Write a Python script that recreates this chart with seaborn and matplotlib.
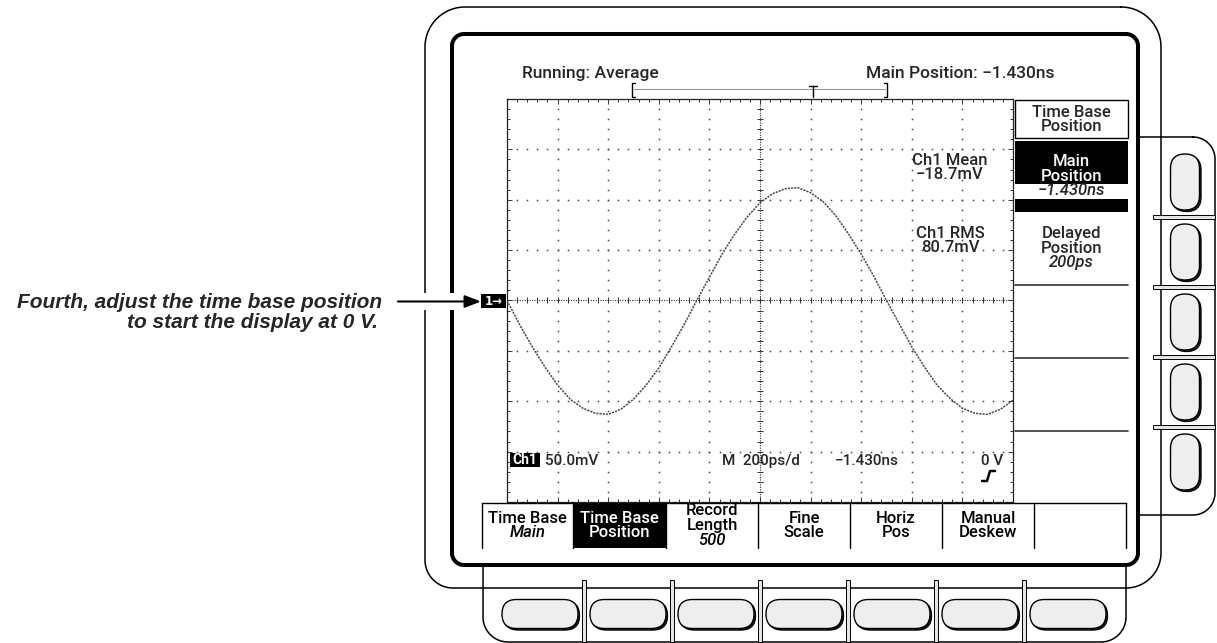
import numpy as np
import matplotlib.pyplot as plt
import seaborn as sns
from matplotlib.patches import FancyBboxPatch, Rectangle
from matplotlib.ticker import MultipleLocator

W, H = 1217, 643

# Ch1 trace (averaged), 200 ps/div, 50 mV/div
time_ns = [0.00, 0.05, 0.10, 0.15, 0.20, 0.25, 0.30, 0.35, 0.40, 0.45,
           0.50, 0.55, 0.60, 0.65, 0.70, 0.75, 0.80, 0.85, 0.90, 0.95,
           1.00, 1.05, 1.10, 1.15, 1.20, 1.25, 1.30, 1.35, 1.40, 1.45,
           1.50, 1.55, 1.60, 1.65, 1.70, 1.75, 1.80, 1.85, 1.90, 1.95, 2.00]
ch1_mv = [0, -24, -46, -66, -84, -98, -107, -112, -113, -108,
          -98, -84, -67, -46, -24, 0, 23, 46, 66, 83,
          97, 106, 111, 112, 107, 98, 84, 66, 46, 24,
          0, -23, -46, -66, -84, -97, -107, -112, -113, -108, -99]

# screen readouts
status_left = "Running: Average"
status_right = "Main Position: \u22121.430ns"
meas_labels = ["Ch1 Mean", "Ch1 RMS"]
meas_values = ["\u221218.7mV", "80.7mV"]
ch1_scale = "50.0mV"
time_scale = "M  200ps/d"
trig_pos = "\u22121.430ns"
trig_level = "0 V"

# side menu
side_title = ["Time Base", "Position"]
side_selected = ["Main", "Position"]
side_selected_value = "\u22121.430ns"
side_other = ["Delayed", "Position"]
side_other_value = "200ps"

# bottom menu
bottom_labels = [["Time Base"], ["Time Base", "Position"], ["Record", "Length"],
                 ["Fine", "Scale"], ["Horiz", "Pos"], ["Manual", "Deskew"], []]
bottom_values = ["Main", "", "500", "", "", "", ""]
bottom_selected = 1

note = ["Fourth, adjust the time base position", "to start the display at 0 V."]


def outline(x0, y0, x1, y1, rtl, rtr, rbr, rbl, n=24):
    pts = []

    def arc(cx, cy, r, a0, a1):
        t = np.radians(np.linspace(a0, a1, n))
        return list(zip(cx + r * np.cos(t), cy - r * np.sin(t)))
    pts += arc(x1 - rtr, y0 + rtr, rtr, 90, 0)
    pts += arc(x1 - rbr, y1 - rbr, rbr, 0, -90)
    pts += arc(x0 + rbl, y1 - rbl, rbl, -90, -180)
    pts += arc(x0 + rtl, y0 + rtl, rtl, 180, 90)
    pts.append(pts[0])
    xs, ys = zip(*pts)
    return xs, ys


def pill(ax, cx, cy, w, h):
    r = min(w, h) / 2
    sh = FancyBboxPatch((cx - w / 2 + 1.6, cy - h / 2 + 1.6), w, h,
                        boxstyle=f"round,pad=0,rounding_size={r}",
                        fc="#222222", ec="black", lw=0.8, zorder=4)
    b = FancyBboxPatch((cx - w / 2, cy - h / 2), w, h,
                       boxstyle=f"round,pad=0,rounding_size={r}",
                       fc="#eeeeee", ec="black", lw=1.0, zorder=5)
    ax.add_patch(sh)
    ax.add_patch(b)


sns.set_theme(style="white")
plt.rcParams['font.family'] = ['Roboto', 'DejaVu Sans']

fig = plt.figure(figsize=(W / 100, H / 100), dpi=100)
fig.patch.set_facecolor("white")

# graticule with the waveform
g = fig.add_axes([507 / W, (H - 502) / H, 506 / W, 403 / H], zorder=1)
sns.lineplot(x=time_ns, y=ch1_mv, ax=g, color="#4a4a4a", lw=1.1,
             linestyle=(0, (1.4, 0.7)), zorder=5)
g.set_xlim(0, 2.0)
g.set_ylim(-200, 200)
g.set(xlabel="", ylabel="")
g.set_xticks(np.arange(0, 2.001, 0.2))
g.set_yticks(np.arange(-200, 201, 50))
g.xaxis.set_minor_locator(MultipleLocator(0.04))
g.yaxis.set_minor_locator(MultipleLocator(10))
g.tick_params(which="both", direction="in", top=True, bottom=True, left=True, right=True,
              labelbottom=False, labelleft=False, color="#333333", width=0.7)
g.tick_params(which="major", length=3.5)
g.tick_params(which="minor", length=2)
for s in g.spines.values():
    s.set_color("#222222")
    s.set_linewidth(0.9)

minor_x = np.arange(0, 2.0001, 0.04)
minor_y = np.arange(-200, 200.1, 10)
for k in range(1, 10):
    if k == 5:
        continue
    g.plot(np.full(len(minor_y), 0.2 * k), minor_y, ls="none", marker="s", ms=1.1,
           mew=0, color="#444444")
for j in range(-3, 4):
    if j == 0:
        continue
    g.plot(minor_x, np.full(len(minor_x), 50 * j), ls="none", marker="s", ms=1.1,
           mew=0, color="#444444")
g.plot([1.0, 1.0], [-200, 200], ls=(0, (1, 1.2)), lw=0.8, color="#333333")
g.plot([0, 2.0], [0, 0], ls=(0, (1, 1.2)), lw=0.8, color="#333333")
g.plot(minor_x, np.zeros(len(minor_x)), ls="none", marker="|", ms=4, mew=0.7, color="#333333")
g.plot(np.full(len(minor_y), 1.0), minor_y, ls="none", marker="_", ms=4, mew=0.7, color="#333333")

# overlay in pixel coordinates for the instrument drawing
ax = fig.add_axes([0, 0, 1, 1], zorder=3)
ax.set_xlim(0, W)
ax.set_ylim(H, 0)
ax.axis("off")

# side and bottom button panels
xs, ys = outline(1138, 137, 1215, 515, 0, 22, 22, 0)
ax.fill(xs, ys, color="white", zorder=1)
ax.plot(xs, ys, color="black", lw=1.1, zorder=2)
xs, ys = outline(483, 565, 1126, 642, 0, 0, 25, 25)
ax.fill(xs, ys, color="white", zorder=1)
ax.plot(xs, ys, color="black", lw=1.1, zorder=2)

# bezels
xs, ys = outline(425, 7, 1161, 588, 40, 40, 35, 28)
ax.plot(xs, ys, color="black", lw=1.1, zorder=3)
xs, ys = outline(452, 34, 1138, 565, 12, 12, 12, 12)
ax.plot(xs, ys, color="black", lw=2.9, zorder=3, solid_joinstyle="round")

# tabs between buttons
for k in range(6):
    ax.add_patch(Rectangle((584 + 88 * k - 1.8, 580), 3.6, 62, fc="#e4e4e4", ec="black",
                           lw=0.7, zorder=4))
for k in range(4):
    ax.add_patch(Rectangle((1153, 217 + 70 * k - 1.8), 62, 3.6, fc="#e4e4e4", ec="black",
                           lw=0.7, zorder=4))

# buttons
for k in range(7):
    pill(ax, 540 + 88 * k, 614, 76, 29)
for k in range(5):
    pill(ax, 1185, 182 + 70 * k, 29, 56)

# status line and record view bracket
ax.text(522, 78, status_left, fontsize=12.5, fontweight="medium", va="baseline", ha="left")
ax.text(866, 78, status_right, fontsize=12.5, fontweight="medium", va="baseline", ha="left")
ax.plot([634, 885], [89, 89], ls=(0, (1, 0.8)), lw=0.8, color="#444444")
ax.plot([635, 632, 632, 635], [83, 83, 97, 97], color="black", lw=1)
ax.plot([884, 887, 887, 884], [83, 83, 97, 97], color="black", lw=1)
ax.plot([809, 817], [86, 86], color="black", lw=1)
ax.plot([813, 813], [86, 97], color="black", lw=1)

# measurements inside graticule
for i in range(2):
    yb = 165 + 73 * i
    ax.text(950, yb, meas_labels[i], fontsize=12, fontweight="medium", ha="center", va="baseline")
    ax.text(950, yb + 14, meas_values[i], fontsize=12, fontweight="medium", ha="center", va="baseline")

# readouts at bottom of graticule
ax.add_patch(Rectangle((510, 453), 30, 13.5, fc="black", ec="none", zorder=4))
ax.text(525, 464.5, "Ch1", color="white", fontsize=10, fontweight="bold", ha="center",
        va="baseline", zorder=5)
ax.text(545, 465, ch1_scale, fontsize=11, fontweight="medium", va="baseline")
ax.text(722, 465, time_scale, fontsize=11, fontweight="medium", va="baseline")
ax.text(835, 465, trig_pos, fontsize=11, fontweight="medium", va="baseline")
ax.text(1003, 465, trig_level, fontsize=11, fontweight="medium", va="baseline", ha="right")
ax.plot([982, 987, 990, 995], [481, 481, 471, 471], color="black", lw=1.8)

# ground marker and the pointer arrow
ax.add_patch(Rectangle((415, 293), 45, 17, fc="white", ec="none", zorder=5))
ax.annotate("", xy=(481, 301.5), xytext=(398, 301.5), zorder=6,
            arrowprops=dict(arrowstyle="-|>,head_length=0.65,head_width=0.25", color="black",
                            lw=1.5, mutation_scale=15, shrinkA=0, shrinkB=0))
ax.add_patch(Rectangle((481, 294), 25, 14, fc="black", ec="none", zorder=6))
ax.text(493.5, 301.5, "1\u2192", color="white", fontsize=8.5, fontweight="bold",
        ha="center", va="center", family=["DejaVu Sans"], zorder=7)

ax.text(382, 308, note[0], fontsize=15, fontweight="bold", fontstyle="italic",
        family=["Liberation Sans", "DejaVu Sans"], ha="right", va="baseline")
ax.text(378, 328, note[1], fontsize=15, fontweight="bold", fontstyle="italic",
        family=["Liberation Sans", "DejaVu Sans"], ha="right", va="baseline")

# side menu
cx = 1071.5
ax.add_patch(Rectangle((1015, 100), 113, 38, fc="white", ec="black", lw=1.0, zorder=4))
ax.add_patch(Rectangle((1015, 141), 113, 43, fc="black", ec="none", zorder=4))
ax.add_patch(Rectangle((1015, 199), 113, 13, fc="black", ec="none", zorder=4))
for yl in [285, 358, 431]:
    ax.plot([1015, 1128], [yl, yl], color="#333333", lw=1.2)
ax.text(cx, 117, side_title[0], fontsize=12, fontweight="medium", ha="center", va="baseline", zorder=5)
ax.text(cx, 131, side_title[1], fontsize=12, fontweight="medium", ha="center", va="baseline", zorder=5)
ax.text(cx, 166, side_selected[0], fontsize=12, fontweight="medium", color="white",
        ha="center", va="baseline", zorder=5)
ax.text(cx, 181, side_selected[1], fontsize=12, fontweight="medium", color="white",
        ha="center", va="baseline", zorder=5)
ax.text(cx, 195, side_selected_value, fontsize=12, fontweight="medium", fontstyle="italic",
        ha="center", va="baseline", zorder=5)
ax.text(cx, 238, side_other[0], fontsize=12, fontweight="medium", ha="center", va="baseline")
ax.text(cx, 253, side_other[1], fontsize=12, fontweight="medium", ha="center", va="baseline")
ax.text(cx, 267, side_other_value, fontsize=12, fontweight="medium", fontstyle="italic",
        ha="center", va="baseline")

# bottom menu
edges = [482, 573, 666, 758, 850, 942, 1034, 1126]
ax.plot([482, 1126], [503, 503], color="black", lw=1.0)
for xe in edges:
    ax.plot([xe, xe], [503, 548], color="black", lw=1.0)
ax.add_patch(Rectangle((edges[bottom_selected], 503), edges[bottom_selected + 1] - edges[bottom_selected],
                       45, fc="black", ec="none", zorder=4))
for i, lab in enumerate(bottom_labels):
    lines = list(lab)
    italic = [False] * len(lines)
    if bottom_values[i]:
        lines.append(bottom_values[i])
        italic.append(True)
    if len(lines) == 3:
        bases = [515, 530, 545]
    else:
        bases = [523, 537]
    mx = (edges[i] + edges[i + 1]) / 2
    col = "white" if i == bottom_selected else "black"
    for ln, it, yb in zip(lines, italic, bases):
        ax.text(mx, yb, ln, fontsize=12, fontweight="medium", fontstyle="italic" if it else "normal",
                color=col, ha="center", va="baseline", zorder=5)

fig.savefig("out.png", dpi=100, facecolor="white")
